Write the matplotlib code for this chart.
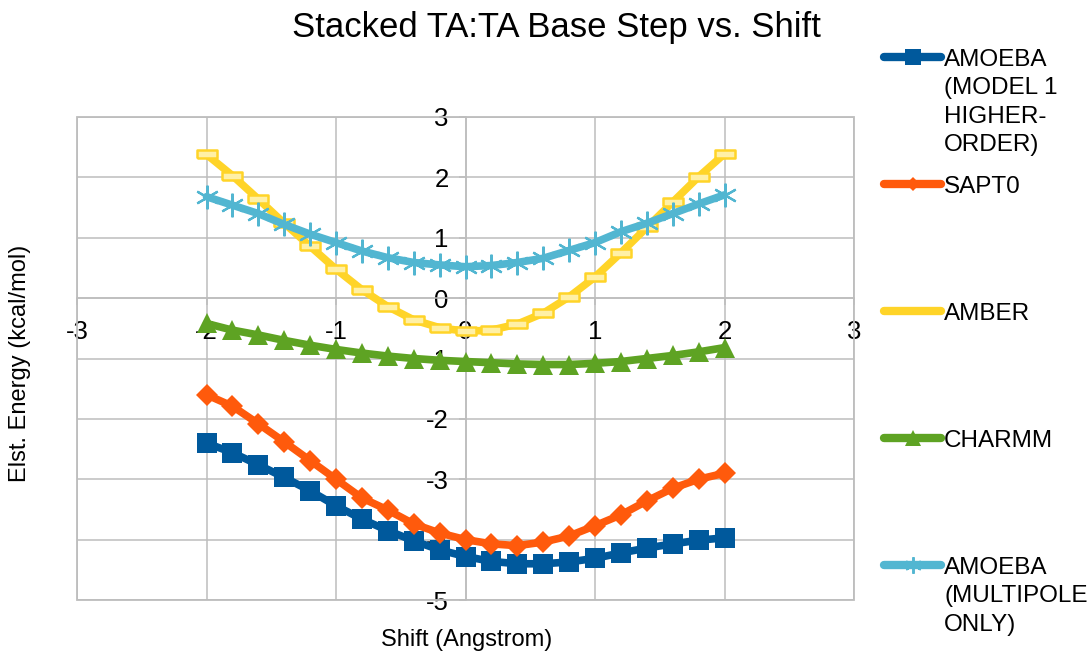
import matplotlib
matplotlib.use('Agg')
import matplotlib.pyplot as plt
from matplotlib.patches import Rectangle
from matplotlib.lines import Line2D

plt.rcParams['font.family'] = ['Liberation Sans', 'DejaVu Sans']

# ---- data ----
shift = [-2.0, -1.8, -1.6, -1.4, -1.2, -1.0, -0.8, -0.6, -0.4, -0.2, 0.0,
         0.2, 0.4, 0.6, 0.8, 1.0, 1.2, 1.4, 1.6, 1.8, 2.0]
amoeba_m1 = [-2.40, -2.56, -2.76, -2.97, -3.19, -3.44, -3.66, -3.85, -4.02, -4.17, -4.28,
             -4.36, -4.40, -4.40, -4.37, -4.31, -4.22, -4.14, -4.07, -4.01, -3.97]
sapt0 = [-1.60, -1.79, -2.08, -2.38, -2.69, -3.00, -3.31, -3.51, -3.74, -3.89, -4.00,
         -4.07, -4.10, -4.04, -3.94, -3.77, -3.59, -3.36, -3.15, -3.00, -2.90]
amber = [2.38, 2.03, 1.64, 1.24, 0.86, 0.48, 0.14, -0.14, -0.36, -0.49, -0.55,
         -0.53, -0.43, -0.25, 0.02, 0.35, 0.75, 1.17, 1.59, 2.01, 2.39]
charmm = [-0.42, -0.53, -0.61, -0.70, -0.78, -0.85, -0.91, -0.96, -1.00, -1.03, -1.05,
          -1.07, -1.09, -1.10, -1.10, -1.08, -1.05, -1.00, -0.95, -0.89, -0.82]
amoeba_mp = [1.68, 1.54, 1.40, 1.22, 1.06, 0.92, 0.78, 0.67, 0.59, 0.55, 0.52,
             0.54, 0.59, 0.66, 0.79, 0.92, 1.10, 1.24, 1.40, 1.56, 1.71]

labels = ["AMOEBA\n(MODEL 1\nHIGHER-\nORDER)", "SAPT0", "AMBER", "CHARMM",
          "AMOEBA\n(MULTIPOLE\nONLY)"]
x_ticks = [-3, -2, -1, 0, 1, 2, 3]
y_ticks = [-5, -4, -3, -2, -1, 0, 1, 2, 3]

title = "Stacked TA:TA Base Step vs. Shift"
xlabel = "Shift (Angstrom)"
ylabel = "Elst. Energy (kcal/mol)"

# ---- styles ----
W, H = 1092, 656
c_blue = '#00599c'
c_orange = '#ff5a0c'
c_yellow = '#ffd428'
c_green = '#5ea323'
c_cyan = '#52b6d1'
grid_c = '#bdbdbd'

rect_marker = [(-1, -0.38), (1, -0.38), (1, 0.38), (-1, 0.38), (-1, -0.38)]

styles = [
    dict(color=c_blue, marker='s', ms=15, mfc=c_blue, mec=c_blue, mew=0),
    dict(color=c_orange, marker='D', ms=11, mfc=c_orange, mec=c_orange, mew=0),
    dict(color=c_yellow, marker=rect_marker, ms=15, mfc='#fff0a6', mec=c_yellow, mew=1.8),
    dict(color=c_green, marker='^', ms=14.5, mfc=c_green, mec=c_green, mew=0),
    dict(color=c_cyan, marker=(6, 2, 0), ms=17, mfc=c_cyan, mec=c_cyan, mew=1.6),
]
legend_styles = [
    dict(color=c_blue, marker='s', ms=11, mfc=c_blue, mec=c_blue, mew=0),
    dict(color=c_orange, marker='D', ms=7, mfc=c_orange, mec=c_orange, mew=0),
    dict(color=c_yellow, marker=None),
    dict(color=c_green, marker='^', ms=11, mfc=c_green, mec=c_green, mew=0),
    dict(color=c_cyan, marker=(6, 2, 0), ms=12, mfc=c_cyan, mec=c_cyan, mew=1.4),
]

fig = plt.figure(figsize=(W / 100, H / 100), dpi=100)
fig.patch.set_facecolor('white')

x0, x1, y0, y1 = 77, 854, 117, 600
ax = fig.add_axes([x0 / W, 1 - y1 / H, (x1 - x0) / W, (y1 - y0) / H])

series = [amoeba_m1, sapt0, amber, charmm, amoeba_mp]
for vals, st in zip(series, styles):
    ax.plot(shift, vals, lw=5.5, solid_joinstyle='round', solid_capstyle='round',
            zorder=3, **st)

ax.set_xlim(-3, 3)
ax.set_ylim(-5, 3)
ax.set_xticks(x_ticks)
ax.set_yticks(y_ticks)
ax.set_xticklabels([str(t) for t in x_ticks])
ax.set_yticklabels([str(t) for t in y_ticks])

ax.grid(True, color=grid_c, lw=1.1, zorder=0)
ax.set_axisbelow(True)

for s in ['top', 'right']:
    ax.spines[s].set_visible(False)
ax.spines['left'].set_position(('data', 0))
ax.spines['bottom'].set_position(('data', 0))
for s in ['left', 'bottom']:
    ax.spines[s].set_color(grid_c)
    ax.spines[s].set_linewidth(1.1)
    ax.spines[s].set_zorder(1)

ax.tick_params(axis='x', direction='out', length=5, width=1.1, color=grid_c,
               labelsize=18.5, pad=11)
ax.tick_params(axis='y', direction='out', length=5, width=1.1, color=grid_c,
               labelsize=18.5, pad=7)

# outer frame
ax.add_patch(Rectangle((0, 0), 1, 1, transform=ax.transAxes, fill=False,
                       edgecolor=grid_c, lw=1.3, clip_on=False, zorder=1))

# titles
fig.text(556 / W, 1 - 28 / H, title, ha='center', va='center', fontsize=25)
fig.text(467 / W, 1 - 640 / H, xlabel, ha='center', va='center', fontsize=17)
fig.text(20 / W, 1 - 363 / H, ylabel, ha='center', va='center', fontsize=17,
         rotation=90)

# legend (manual)
leg_y = [57, 184, 311, 438, 565]
for yy, lab, st in zip(leg_y, labels, legend_styles):
    fy = 1 - yy / H
    fig.add_artist(Line2D([884 / W, 941 / W], [fy, fy], transform=fig.transFigure,
                          lw=6, solid_capstyle='round', color=st['color']))
    if st.get('marker') is not None:
        fig.add_artist(Line2D([912.5 / W], [fy], transform=fig.transFigure,
                              lw=0, marker=st['marker'], ms=st['ms'],
                              mfc=st['mfc'], mec=st['mec'], mew=st['mew']))
    fig.text(944 / W, 1 - (yy - 8) / H, lab, ha='left', va='top',
             fontsize=17.5, linespacing=1.38)

fig.savefig('out.png', dpi=100, facecolor='white')
